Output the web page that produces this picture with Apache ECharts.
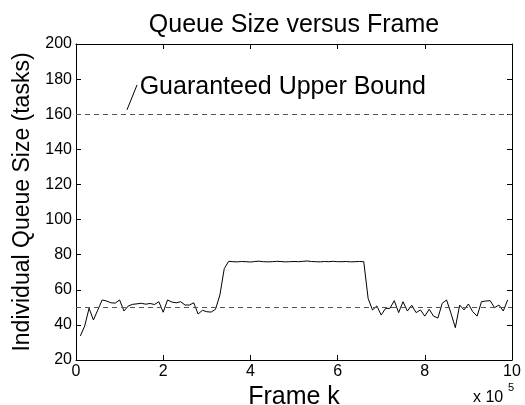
<!DOCTYPE html>
<html>
<head>
<meta charset="utf-8">
<script src="https://cdn.jsdelivr.net/npm/echarts@6/dist/echarts.min.js"></script>
<style>
html,body{margin:0;padding:0;background:#fff;}
#chart{width:525px;height:405px;}
</style>
</head>
<body>
<div id="chart"></div>
<script>
// ---- data ----
const chartTitle = 'Queue Size versus Frame';
const xAxisTitle = 'Frame k';
const yAxisTitle = 'Individual Queue Size (tasks)';
const annotationText = 'Guaranteed Upper Bound';
const xScaleNote = 'x 10';
const xScaleExp = '5';
// frame index in units of 10^5
const frames = [0.1,0.2,0.3,0.4,0.5,0.6,0.7,0.8,0.9,1.0,
  1.1,1.2,1.3,1.4,1.5,1.6,1.7,1.8,1.9,2.0,
  2.1,2.2,2.3,2.4,2.5,2.6,2.7,2.8,2.9,3.0,
  3.1,3.2,3.3,3.4,3.5,3.6,3.7,3.8,3.9,4.0,
  4.1,4.2,4.3,4.4,4.5,4.6,4.7,4.8,4.9,5.0,
  5.1,5.2,5.3,5.4,5.5,5.6,5.7,5.8,5.9,6.0,
  6.1,6.2,6.3,6.4,6.5,6.6,6.7,6.8,6.9,7.0,
  7.1,7.2,7.3,7.4,7.5,7.6,7.7,7.8,7.9,8.0,
  8.1,8.2,8.3,8.4,8.5,8.6,8.7,8.8,8.9,9.0,
  9.1,9.2,9.3,9.4,9.5,9.6,9.7,9.8,9.9];
const queueSize = [33.7,39.4,49.5,42.8,48.5,54.2,53.6,52.6,52.4,54.2,
  47.9,50.8,51.7,52.0,52.3,51.8,52.2,51.6,53.2,47.2,
  54.2,53.0,52.6,53.2,51.3,51.3,52.6,46.2,48.3,47.5,
  47.3,48.9,57.0,72.0,76.2,76.0,75.9,76.1,76.0,75.8,
  76.1,76.3,76.0,75.9,76.0,76.2,76.1,75.9,76.0,76.1,
  76.0,76.2,76.4,76.1,76.0,75.9,76.1,76.0,76.2,76.0,
  76.0,76.1,75.9,76.0,76.1,76.0,55.1,48.5,50.8,45.6,
  49.4,49.4,53.8,47.0,53.2,47.9,51.2,47.0,48.5,45.0,
  48.9,45.0,43.9,52.3,54.2,46.6,38.4,51.3,48.5,51.9,
  47.5,45.0,53.2,53.6,53.8,49.8,51.3,47.9,54.2];
const boundLevels = [50, 160];
const pointerStart = [1.17, 162.5];
const pointerEnd = [1.40, 176.7];
const annotationAnchor = [1.46, 175.5];
const xMin = 0, xMax = 10, xStep = 2;
const yMin = 20, yMax = 200, yStep = 20;

// ---- chart ----
const FONT = '"Liberation Sans", Arial, Helvetica, sans-serif';
const chart = echarts.init(document.getElementById('chart'), null, {renderer:'canvas'});

const baseX = {
  type:'value', min:xMin, max:xMax, interval:xStep,
  splitLine:{show:false},
  axisLine:{show:true, onZero:false, lineStyle:{color:'#000', width:1}},
  axisTick:{show:true, inside:true, length:5, lineStyle:{color:'#000'}},
};
const baseY = {
  type:'value', min:yMin, max:yMax, interval:yStep,
  splitLine:{show:false},
  axisLine:{show:true, onZero:false, lineStyle:{color:'#000', width:1}},
  axisTick:{show:true, inside:true, length:5, lineStyle:{color:'#000'}},
};

const pairs = frames.map((f, i) => [f, queueSize[i]]);

const markLineData = boundLevels.map(v => ({
  yAxis: v,
  lineStyle:{type:[5,4], color:'#555', width:1}
}));
markLineData.push([
  {coord: pointerStart, lineStyle:{type:'solid', color:'#000', width:1}},
  {coord: pointerEnd}
]);

chart.setOption({
  animation:false,
  backgroundColor:'#fff',
  grid:{left:76, right:13, top:44, bottom:45, containLabel:false, outerBoundsMode:'none'},
  xAxis:[
    Object.assign({}, baseX, {
      position:'bottom',
      name:xAxisTitle, nameLocation:'middle', nameGap:21,
      nameTextStyle:{fontSize:25, color:'#000', fontFamily:FONT},
      axisLabel:{show:true, color:'#000', fontSize:16, fontFamily:FONT, margin:4,
        formatter: v => String(v)}
    }),
    Object.assign({}, baseX, {position:'top', axisLabel:{show:false}})
  ],
  yAxis:[
    Object.assign({}, baseY, {
      position:'left',
      name:yAxisTitle, nameLocation:'middle', nameGap:34,
      nameTextStyle:{fontSize:23, color:'#000', fontFamily:FONT},
      axisLabel:{show:true, color:'#000', fontSize:16, fontFamily:FONT, margin:4}
    }),
    Object.assign({}, baseY, {position:'right', axisLabel:{show:false}})
  ],
  graphic:[
    {type:'text', x:294, y:25, silent:true,
      style:{text:chartTitle, fill:'#000', font:'25px ' + FONT, textAlign:'center', textVerticalAlign:'middle'}},
    {type:'text', x:473, y:398, silent:true,
      style:{text:xScaleNote, fill:'#000', font:'16px ' + FONT, textAlign:'left', textVerticalAlign:'middle'}},
    {type:'text', x:508, y:388, silent:true,
      style:{text:xScaleExp, fill:'#000', font:'11px ' + FONT, textAlign:'left', textVerticalAlign:'middle'}}
  ],
  series:[{
    type:'line',
    data:pairs,
    xAxisIndex:0, yAxisIndex:0,
    symbol:'none',
    lineStyle:{color:'#000', width:1},
    markLine:{
      silent:true, symbol:['none','none'],
      label:{show:false},
      data:markLineData
    },
    markPoint:{
      silent:true,
      symbol:'circle', symbolSize:0,
      data:[{coord:annotationAnchor}],
      label:{show:true, position:'right', distance:0, formatter:annotationText,
        color:'#000', fontSize:25, fontFamily:FONT}
    }
  }]
});
</script>
</body>
</html>
